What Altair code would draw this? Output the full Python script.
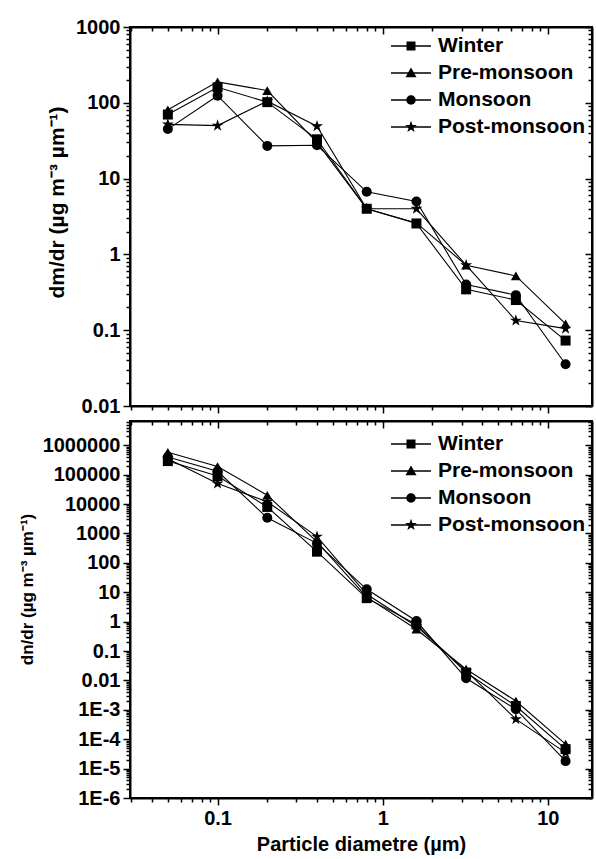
import math
import altair as alt
import pandas as pd

# Particle size bins (µm)
diameter = [0.05, 0.1, 0.2, 0.4, 0.8, 1.6, 3.2, 6.4, 12.8]
seasons = ["Winter", "Pre-monsoon", "Monsoon", "Post-monsoon"]

# Mass size distribution, dm/dr
dm_winter = [70, 160, 102, 33, 4.0, 2.56, 0.346, 0.25, 0.073]
dm_premonsoon = [81, 189, 145, 30, 4.0, 2.6, 0.72, 0.52, 0.121]
dm_monsoon = [45, 124, 27, 27.5, 6.7, 5.0, 0.40, 0.29, 0.0355]
dm_postmonsoon = [52, 50, 105, 49, 4.0, 4.0, 0.72, 0.134, 0.105]

# Number size distribution, dn/dr
dn_winter = [2.9e5, 9.0e4, 8.0e3, 240, 6.3, 0.81, 0.0185, 1.35e-3, 4.6e-5]
dn_premonsoon = [5.8e5, 1.9e5, 2.0e4, 520, 6.8, 0.55, 0.024, 2.0e-3, 6.8e-5]
dn_monsoon = [4.0e5, 1.3e5, 3.4e3, 460, 12.6, 1.05, 0.0118, 1.05e-3, 1.8e-5]
dn_postmonsoon = [3.5e5, 5.0e4, 1.2e4, 780, 8.5, 0.70, 0.021, 4.8e-4, 3.5e-5]


def long_table(series):
    rows = []
    for season, values in zip(seasons, series):
        for d, v in zip(diameter, values):
            rows.append({"d": d, "v": v, "season": season})
    return pd.DataFrame(rows)


dm_df = long_table([dm_winter, dm_premonsoon, dm_monsoon, dm_postmonsoon])
dn_df = long_table([dn_winter, dn_premonsoon, dn_monsoon, dn_postmonsoon])

FONT = "Liberation Sans"
EXP = "round(log(datum.value)/LN10)"
LABEL_EXPR = (
    f"{EXP} >= 0 ? format(datum.value, 'd') : "
    f"({EXP} >= -2 ? format(datum.value, '.' + toString(-{EXP}) + 'f') : '1E' + toString({EXP}))"
)


def log_ticks(lo, hi, major):
    vals = []
    for e in range(math.floor(math.log10(lo)) - 1, math.ceil(math.log10(hi)) + 1):
        for m in ([1] if major else range(2, 10)):
            v = float(f"{m}e{e}")
            if lo * 0.999 <= v <= hi * 1.001:
                vals.append(v)
    return vals


def star_path(r_out, r_in, scale=1.0):
    pts = []
    for k in range(10):
        a = math.radians(-90 + 36 * k)
        r = (r_out if k % 2 == 0 else r_in) * scale
        pts.append(f"{r * math.cos(a):.3f},{r * math.sin(a):.3f}")
    return "M" + "L".join(pts) + "Z"


marker_shapes = ["square", "triangle-up", "circle", star_path(1.25, 0.48)]

# legend keys: a horizontal stroke plus a filled marker drawn on top of it
LEG_LINE = "M-2,0H2"
legend_line_shapes = [LEG_LINE] * 4
legend_marker_shapes = [
    "M-0.45,-0.45H0.45V0.45H-0.45Z",
    "M0,-0.55L0.55,0.42H-0.55Z",
    "M0.47,0A0.47,0.47,0,1,1,-0.47,0A0.47,0.47,0,1,1,0.47,0Z",
    star_path(1.0, 0.4, 0.62),
]

X_DOMAIN = [0.0295, 18.5]


def make_axis(orient, values, major=True, mirror=False, labels=False, title=None,
              title_size=17, title_pad=8, title_y=None):
    length = 7 if major else 4
    kw = dict(
        orient=orient,
        values=values,
        labels=labels,
        title=title,
        tickSize={"expr": str(-length)} if mirror else length,
        tickWidth=1.5,
        tickColor="black",
        domain=major,
        domainColor="black",
        domainWidth=2,
        grid=False,
        labelFont=FONT,
        labelFontSize=20,
        labelFontWeight="bold",
        labelColor="black",
        labelPadding=3,
        labelOverlap=False,
        labelFlush=False,
        titleFont=FONT,
        titleFontSize=title_size,
        titleFontWeight="bold",
        titleColor="black",
        titlePadding=title_pad,
    )
    if labels:
        kw["labelExpr"] = LABEL_EXPR
    if title_y is not None:
        kw["titleY"] = title_y
    return alt.Axis(**kw)


def key_legend(legend_y, visible_labels):
    return alt.Legend(
        title=None,
        orient="none",
        legendX=270,
        legendY=legend_y,
        padding=0,
        labelFont=FONT,
        labelFontSize=21,
        labelFontWeight="bold",
        labelColor="black",
        labelOpacity=1 if visible_labels else 0,
        labelOffset=16,
        labelLimit=300,
        rowPadding=6,
        symbolSize=400,
        symbolFillColor="black" if not visible_labels else "transparent",
        symbolStrokeColor="black",
        symbolStrokeWidth=1.3,
        symbolOpacity=1,
    )


def panel(df, y_domain, y_title, title_size, title_pad, title_y, height,
          show_x_labels, legend_y):
    y_major = log_ticks(*y_domain, True)
    y_minor = log_ticks(*y_domain, False)
    x_major = log_ticks(*X_DOMAIN, True)
    x_minor = log_ticks(*X_DOMAIN, False)
    xs = alt.Scale(type="log", domain=X_DOMAIN, nice=False)
    ys = alt.Scale(type="log", domain=y_domain, nice=False)

    lines = alt.Chart(df).mark_line(color="black", strokeWidth=1.1).encode(
        x=alt.X("d:Q", scale=xs, axis=make_axis(
            "bottom", x_major, labels=show_x_labels,
            title="Particle diametre (µm)" if show_x_labels else None,
            title_size=20, title_pad=6)),
        y=alt.Y("v:Q", scale=ys, axis=make_axis(
            "left", y_major, labels=True, title=y_title, title_size=title_size,
            title_pad=title_pad, title_y=title_y)),
        detail="season:N",
    )

    points = alt.Chart(df).mark_point(filled=True, size=100, color="black", opacity=1).encode(
        x=alt.X("d:Q", scale=xs, axis=make_axis("bottom", x_minor, major=False)),
        y=alt.Y("v:Q", scale=ys, axis=make_axis("left", y_minor, major=False)),
        shape=alt.Shape("season:N", scale=alt.Scale(domain=seasons, range=marker_shapes),
                        legend=None),
    )

    key_lines = (
        alt.Chart(df)
        .transform_filter("false")
        .mark_point(filled=False, size=400, stroke="black", strokeWidth=1.3, opacity=1)
        .encode(
            x=alt.X("d:Q", scale=xs, axis=make_axis("top", x_major, mirror=True)),
            y=alt.Y("v:Q", scale=ys, axis=make_axis("right", y_major, mirror=True)),
            shape=alt.Shape("season:N",
                            scale=alt.Scale(domain=seasons, range=legend_line_shapes),
                            legend=key_legend(legend_y, True)),
        )
    )

    key_marks = (
        alt.Chart(df)
        .transform_filter("false")
        .mark_point(filled=True, size=400, color="black", opacity=1)
        .encode(
            x=alt.X("d:Q", scale=xs, axis=make_axis("top", x_minor, major=False, mirror=True)),
            y=alt.Y("v:Q", scale=ys, axis=make_axis("right", y_minor, major=False, mirror=True)),
            shape=alt.Shape("season:N",
                            scale=alt.Scale(domain=seasons, range=legend_marker_shapes),
                            legend=key_legend(legend_y, False)),
        )
    )

    return (
        alt.layer(lines, points, key_lines, key_marks)
        .resolve_scale(shape="independent")
        .resolve_axis(x="independent", y="independent")
        .properties(width=462, height=height)
    )


top = panel(dm_df, [0.01, 1000], "dm/dr (µg m⁻³ µm⁻¹)", 21, 8, 175, 379, False, 8)
bottom = panel(dn_df, [1e-6, 6.7e6], "dn/dr (µg m⁻³ µm⁻¹)", 17, 6, 168, 377, True, 12)

chart = (
    alt.vconcat(top, bottom, spacing=2)
    .properties(padding={"left": 17, "top": 16, "right": 0, "bottom": 0})
    .configure_view(stroke="black", strokeWidth=2)
)

chart.save("out.html", embed_options={"renderer": "svg", "actions": False})
